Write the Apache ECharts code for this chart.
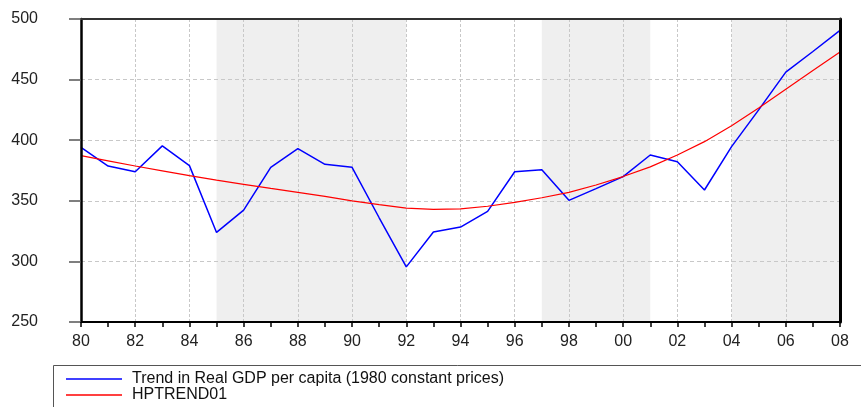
<!DOCTYPE html>
<html>
<head>
<meta charset="utf-8">
<script src="https://cdn.jsdelivr.net/npm/echarts@6/dist/echarts.min.js"></script>
<style>html,body{margin:0;padding:0;background:#fff}#c{width:861px;height:407px}</style>
</head>
<body>
<div id="c"></div>
<script>
const years = ['1980','1981','1982','1983','1984','1985','1986','1987','1988','1989','1990','1991','1992','1993','1994','1995','1996','1997','1998','1999','2000','2001','2002','2003','2004','2005','2006','2007','2008'];
const gdpTrend = [394, 378.7, 374, 395.3, 379, 323.9, 342.3, 377.6, 393, 380.1, 377.6, 336, 295.5, 324.2, 328.3, 341.3, 374, 375.7, 350.4, 360, 369.9, 387.8, 382.3, 358.9, 394.7, 425, 456.2, 473.2, 490.6];
const hpTrend = [387.2, 383, 378.7, 374.7, 370.7, 367, 363.6, 360.2, 357, 353.6, 350, 346.8, 344, 342.9, 343.4, 345.5, 348.7, 352.5, 357, 363, 370, 378, 387.8, 398.8, 412, 426.5, 442.1, 457.5, 472.7];
const shadedPeriods = [['1985','1992'], ['1997','2001'], ['2004','2008']];
const yTicks = [250, 300, 350, 400, 450, 500];
const seriesNames = ['Trend in Real GDP per capita (1980 constant prices)', 'HPTREND01'];

const font = 'Liberation Sans';
const yMin = yTicks[0], yMax = yTicks[yTicks.length - 1];
const hidden = {axisLine: {show: false}, axisTick: {show: false}, axisLabel: {show: false}, splitLine: {show: false}};
const chart = echarts.init(document.getElementById('c'), null, {renderer: 'canvas'});
chart.setOption({
  animation: false,
  backgroundColor: '#fff',
  grid: {left: 81, right: 21, top: 19, bottom: 85},
  xAxis: [{
    type: 'category', data: years, boundaryGap: false, z: 10,
    axisLine: {lineStyle: {color: '#000', width: 2}},
    axisTick: {show: true, interval: 0, length: 5, lineStyle: {color: '#000', width: 1.5}},
    axisLabel: {interval: 1, margin: 12, color: '#222', fontFamily: font, fontSize: 16, formatter: v => v.slice(2)},
    splitLine: {show: false}
  }, {
    type: 'category', data: years, boundaryGap: false, position: 'top', z: 10,
    ...hidden, axisLine: {show: true, lineStyle: {color: '#333', width: 2}}
  }, {
    type: 'category', data: years, boundaryGap: false, position: 'bottom', z: 3,
    ...hidden,
    splitLine: {show: true, interval: i => i % 2 === 0 && i > 0, lineStyle: {color: '#c8c8c8', type: [3, 2], width: 1}}
  }],
  yAxis: [{
    type: 'value', min: yMin, max: yMax, interval: 50, z: 10,
    axisLine: {show: true, lineStyle: {color: '#000', width: 2.5}},
    axisTick: {show: true, length: 12, lineStyle: {color: '#555', width: 1.5}},
    axisLabel: {margin: 43, color: '#222', fontFamily: font, fontSize: 16},
    splitLine: {show: false}
  }, {
    type: 'value', min: yMin, max: yMax, interval: 50, position: 'right', z: 10,
    ...hidden, axisLine: {show: true, lineStyle: {color: '#000', width: 3}}
  }, {
    type: 'value', min: yMin, max: yMax, interval: 50, position: 'left', z: 3,
    ...hidden,
    splitLine: {show: true, lineStyle: {color: '#c8c8c8', type: [4, 3], width: 1}}
  }],
  legend: {
    orient: 'vertical', left: 66, top: 371, itemWidth: 56, itemHeight: 1.5, itemGap: 0,
    padding: 0,
    textStyle: {fontFamily: font, fontSize: 16, color: '#111', lineHeight: 14.5, padding: [0, 0, 0, 5]},
    data: seriesNames.map(n => ({name: n, icon: 'rect'}))
  },
  graphic: [{type: 'rect', shape: {x: 53.5, y: 365.5, width: 900, height: 80}, style: {fill: 'none', stroke: '#555', lineWidth: 1}, silent: true}],
  series: [
    {
      type: 'line', data: [], xAxisIndex: 0, yAxisIndex: 0, z: 1, silent: true,
      markArea: {silent: true, itemStyle: {color: '#efefef'}, data: shadedPeriods.map(p => [{xAxis: p[0]}, {xAxis: p[1]}])}
    },
    {
      name: seriesNames[0], type: 'line', data: gdpTrend, symbol: 'none', z: 5,
      lineStyle: {color: '#0000ff', width: 1.5}, itemStyle: {color: '#0000ff'}
    },
    {
      name: seriesNames[1], type: 'line', data: hpTrend, symbol: 'none', z: 6,
      lineStyle: {color: '#ff0000', width: 1.2}, itemStyle: {color: '#ff0000'}
    }
  ]
});
</script>
</body>
</html>
